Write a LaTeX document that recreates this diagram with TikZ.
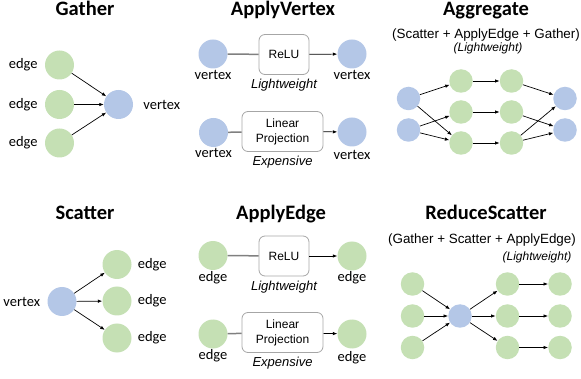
\documentclass[tikz,border=0pt]{standalone}
\usepackage{fontspec}
\setmainfont{Carlito}
\newfontfamily\arialfont{Liberation Sans}
\usepackage{xcolor}
\usepackage{tikz}
\usetikzlibrary{arrows.meta, positioning}
\definecolor{EdgeGreen}{HTML}{C5E0B4}
\definecolor{VertBlue}{HTML}{B4C7E7}
\definecolor{BoxGray}{HTML}{A6A6A6}
\definecolor{FeedGray}{HTML}{808080}
\tikzset{
  edge node/.style={circle, fill=EdgeGreen, minimum size=29pt, inner sep=0pt},
  vert node/.style={circle, fill=VertBlue, minimum size=29pt, inner sep=0pt},
  small edge/.style={edge node, minimum size=23.5pt},
  small vert/.style={vert node, minimum size=23.5pt},
  op box/.style={draw=BoxGray, rounded corners=6pt, line width=0.8pt,
                 minimum height=40pt, align=center,
                 font=\arialfont\fontsize{12}{15}\selectfont},
  title/.style={anchor=base, font=\fontsize{20.5}{24}\selectfont\bfseries},
  lbl/.style={inner sep=1pt, font=\fontsize{14.5}{17}\selectfont},
  note/.style={inner sep=1pt, font=\arialfont\itshape\fontsize{13}{15}\selectfont},
  sub note/.style={anchor=base, inner sep=1pt,
                   font=\arialfont\fontsize{13.4}{15}\selectfont},
  small note/.style={anchor=base, inner sep=1pt,
                     font=\arialfont\itshape\fontsize{12}{14}\selectfont},
  flow edge/.style={-{Latex[length=4.5pt, width=3.5pt]}, line width=0.7pt},
  feed line/.style={draw=FeedGray, line width=1.5pt},
}
\begin{document}
\begin{tikzpicture}[x=1pt, y=-1pt, node distance=6pt]
  \useasboundingbox (0,0) rectangle (581,379);
  % Gather
  \node[title] (tga) at (85,15.5) {Gather};
  \node[edge node] (ga1) at (59.5,65) {};
  \node[edge node] (ga2) at (59.5,104.5) {};
  \node[edge node] (ga3) at (59.5,143) {};
  \node[vert node] (ga0) at (118.5,104.5) {};
  \node[lbl, left=of ga1] (gal1) {edge};
  \node[lbl, left=of ga2] (gal2) {edge};
  \node[lbl, left=of ga3] (gal3) {edge};
  \node[lbl, right=9pt of ga0] (gal0) {vertex};
  \draw[flow edge] (ga1) -- (ga0);
  \draw[flow edge] (ga2) -- (ga0);
  \draw[flow edge] (ga3) -- (ga0);
  % Scatter
  \node[title] (tsc) at (85,220) {Scatter};
  \node[vert node] (sc0) at (62,301.5) {};
  \node[edge node] (sc1) at (117,264.5) {};
  \node[edge node] (sc2) at (117,301) {};
  \node[edge node] (sc3) at (117,338) {};
  \node[lbl, left=of sc0] (scl0) {vertex};
  \node[lbl, right=5pt of sc1] (scl1) {edge};
  \node[lbl, right=5pt of sc2] (scl2) {edge};
  \node[lbl, right=5pt of sc3] (scl3) {edge};
  \draw[flow edge] (sc0) -- (sc1);
  \draw[flow edge] (sc0) -- (sc2);
  \draw[flow edge] (sc0) -- (sc3);
  % ApplyVertex
  \node[title] (tav) at (283,15.5) {ApplyVertex};
  \node[vert node] (av1) at (213,54) {};
  \node[op box, minimum width=50pt] (avr) at (284,54.5) {ReLU};
  \node[vert node] (av2) at (352,54) {};
  \node[lbl, below=0pt of av1] (avl1) {vertex};
  \node[lbl, below=0pt of av2] (avl2) {vertex};
  \node[note, below=3pt of avr] (avn1) {Lightweight};
  \draw[feed line] (av1) -- (avr);
  \draw[flow edge] (avr) -- (av2);
  \node[vert node] (av3) at (213.5,132.5) {};
  \node[op box, minimum width=81pt] (avp) at (282.5,131.5) {Linear\\Projection};
  \node[vert node] (av4) at (352,132) {};
  \node[lbl, below=0pt of av3] (avl3) {vertex};
  \node[lbl, below=2pt of av4] (avl4) {vertex};
  \node[note, below=3pt of avp] (avn2) {Expensive};
  \draw[feed line] (av3) -- (avp);
  \draw[flow edge] (avp) -- (av4);
  % ApplyEdge
  \node[title] (tae) at (281,220) {ApplyEdge};
  \node[edge node] (ae1) at (213,255.5) {};
  \node[op box, minimum width=50pt] (aer) at (284,256) {ReLU};
  \node[edge node] (ae2) at (352,256) {};
  \node[lbl, below=0pt of ae1] (ael1) {edge};
  \node[lbl, below=0pt of ae2] (ael2) {edge};
  \node[note, below=3pt of aer] (aen1) {Lightweight};
  \draw[feed line] (ae1) -- (aer);
  \draw[flow edge] (aer) -- (ae2);
  \node[edge node] (ae3) at (213,334) {};
  \node[op box, minimum width=81pt] (aep) at (282.5,332.5) {Linear\\Projection};
  \node[edge node] (ae4) at (352,334) {};
  \node[lbl, below=0pt of ae3] (ael3) {edge};
  \node[lbl, below=2pt of ae4] (ael4) {edge};
  \node[note, below=3pt of aep] (aen2) {Expensive};
  \draw[feed line] (ae3) -- (aep);
  \draw[flow edge] (aep) -- (ae4);
  % Aggregate
  \node[title] (tag) at (486,15.5) {Aggregate};
  \node[sub note] (ags) at (486,39) {(Scatter + ApplyEdge + Gather)};
  \node[small note] (agn) at (488,52) {(Lightweight)};
  \node[small vert] (agl1) at (408.5,98.5) {};
  \node[small vert] (agl2) at (408.5,130) {};
  \node[small edge] (agm1) at (461,81) {};
  \node[small edge] (agm2) at (461,112) {};
  \node[small edge] (agm3) at (461,143) {};
  \node[small edge] (agk1) at (511.5,81) {};
  \node[small edge] (agk2) at (511.5,112) {};
  \node[small edge] (agk3) at (511.5,143) {};
  \node[small vert] (agr1) at (565,98.5) {};
  \node[small vert] (agr2) at (565,130) {};
  \draw[flow edge] (agl1) -- (agm1);
  \draw[flow edge] (agl1) -- (agm3);
  \draw[flow edge] (agl2) -- (agm2);
  \draw[flow edge] (agl2) -- (agm3);
  \draw[flow edge] (agm1) -- (agk1);
  \draw[flow edge] (agm2) -- (agk2);
  \draw[flow edge] (agm3) -- (agk3);
  \draw[flow edge] (agk1) -- (agr1);
  \draw[flow edge] (agk2) -- (agr2);
  \draw[flow edge] (agk3) -- (agr1);
  \draw[flow edge] (agk3) -- (agr2);
  % ReduceScatter
  \node[title] (trs) at (486,220) {ReduceScatter};
  \node[sub note] (rss) at (482,244) {(Gather + Scatter + ApplyEdge)};
  \node[small note] (rsn) at (537,261) {(Lightweight)};
  \node[small edge] (rsl1) at (412.5,284) {};
  \node[small edge] (rsl2) at (412.5,316) {};
  \node[small edge] (rsl3) at (412.5,347.5) {};
  \node[small vert] (rs0) at (460,316) {};
  \node[small edge] (rsm1) at (507.5,284) {};
  \node[small edge] (rsm2) at (507.5,316) {};
  \node[small edge] (rsm3) at (507.5,347.5) {};
  \node[small edge] (rsk1) at (560,284) {};
  \node[small edge] (rsk2) at (560,316) {};
  \node[small edge] (rsk3) at (560,347.5) {};
  \draw[flow edge] (rsl1) -- (rs0);
  \draw[flow edge] (rsl2) -- (rs0);
  \draw[flow edge] (rsl3) -- (rs0);
  \draw[flow edge] (rs0) -- (rsm1);
  \draw[flow edge] (rs0) -- (rsm2);
  \draw[flow edge] (rs0) -- (rsm3);
  \draw[flow edge] (rsm1) -- (rsk1);
  \draw[flow edge] (rsm2) -- (rsk2);
  \draw[flow edge] (rsm3) -- (rsk3);
\end{tikzpicture}
\end{document}
